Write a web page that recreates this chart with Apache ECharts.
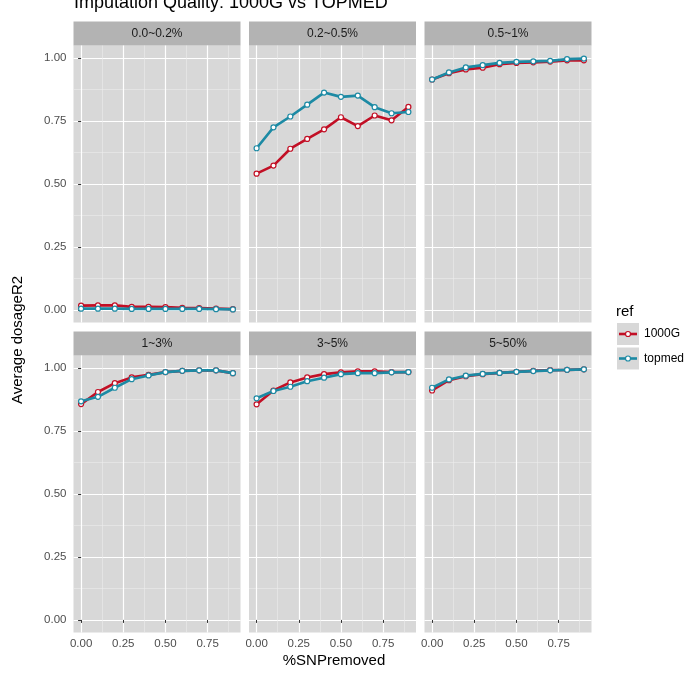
<!DOCTYPE html>
<html>
<head>
<meta charset="utf-8">
<script src="https://cdn.jsdelivr.net/npm/echarts@6/dist/echarts.min.js"></script>
<style>
  html, body { margin: 0; padding: 0; background: #fff; }
  #chart { width: 693px; height: 680px; }
</style>
</head>
<body>
<div id="chart"></div>
<script>
// x values: share of SNPs removed
const snpRemoved = [0, 0.1, 0.2, 0.3, 0.4, 0.5, 0.6, 0.7, 0.8, 0.9]
const facetNames = ['0.0~0.2%', '0.2~0.5%', '0.5~1%', '1~3%', '3~5%', '5~50%']
const refNames = ['1000G', 'topmed']
const xTicks = [0, 0.25, 0.5, 0.75]
const xMinorTicks = [0.125, 0.375, 0.625, 0.875]
const yTicks = [0, 0.25, 0.5, 0.75, 1]
const yMinorTicks = [0.125, 0.375, 0.625, 0.875]

// average dosageR2 per facet
const g1000_00_02 = [0.017, 0.018, 0.018, 0.012, 0.012, 0.011, 0.008, 0.007, 0.005, 0.003]
const topmed_00_02 = [0.005, 0.005, 0.005, 0.004, 0.004, 0.004, 0.004, 0.004, 0.003, 0.002]
const g1000_02_05 = [0.541, 0.573, 0.640, 0.679, 0.717, 0.765, 0.730, 0.772, 0.753, 0.806]
const topmed_02_05 = [0.642, 0.725, 0.768, 0.815, 0.863, 0.846, 0.851, 0.805, 0.781, 0.786]
const g1000_05_1 = [0.915, 0.940, 0.955, 0.962, 0.976, 0.981, 0.983, 0.986, 0.991, 0.991]
const topmed_05_1 = [0.915, 0.943, 0.963, 0.972, 0.981, 0.985, 0.987, 0.989, 0.996, 0.998]
const g1000_1_3 = [0.857, 0.905, 0.940, 0.963, 0.973, 0.984, 0.989, 0.991, 0.991, 0.980]
const topmed_1_3 = [0.868, 0.886, 0.922, 0.956, 0.971, 0.984, 0.989, 0.991, 0.991, 0.980]
const g1000_3_5 = [0.856, 0.911, 0.943, 0.963, 0.976, 0.983, 0.987, 0.987, 0.984, 0.984]
const topmed_3_5 = [0.880, 0.909, 0.926, 0.948, 0.962, 0.976, 0.980, 0.980, 0.983, 0.984]
const g1000_5_50 = [0.911, 0.952, 0.968, 0.976, 0.981, 0.985, 0.989, 0.992, 0.993, 0.995]
const topmed_5_50 = [0.922, 0.955, 0.970, 0.977, 0.981, 0.985, 0.988, 0.991, 0.993, 0.995]

const facetData = [
  [g1000_00_02, topmed_00_02],
  [g1000_02_05, topmed_02_05],
  [g1000_05_1, topmed_05_1],
  [g1000_1_3, topmed_1_3],
  [g1000_3_5, topmed_3_5],
  [g1000_5_50, topmed_5_50]
]

const refColors = ['#c20f25', '#1c8aa4']
const font = 'Liberation Sans, Helvetica, Arial, sans-serif'

// panel layout (ggplot facet_wrap, 2 rows x 3 cols)
const panelLeft = [73.5, 249, 424.5]
const panelTop = [45.5, 355.5]
const panelW = 167
const panelH = 277
const stripH = 24

const grids = []
const xAxes = []
const yAxes = []
const series = []
const graphics = []

facetNames.forEach((name, i) => {
  const col = i % 3
  const row = Math.floor(i / 3)
  const left = panelLeft[col]
  const top = panelTop[row]
  grids.push({
    left: left, top: top, width: panelW, height: panelH,
    show: true, backgroundColor: '#d8d8d8', borderWidth: 0,
    outerBoundsMode: 'none'
  })

  const showX = row === 1
  const showY = col === 0
  // minor grid lines
  xAxes.push({
    type: 'value', gridIndex: i, position: 'bottom', min: -0.045, max: 0.945,
    axisLine: { show: false }, axisLabel: { show: false },
    axisTick: { show: false, customValues: xMinorTicks },
    splitLine: { show: true, lineStyle: { color: '#ececec', width: 0.6 } }
  })
  yAxes.push({
    type: 'value', gridIndex: i, position: 'left', min: -0.05, max: 1.05,
    axisLine: { show: false }, axisLabel: { show: false },
    axisTick: { show: false, customValues: yMinorTicks },
    splitLine: { show: true, lineStyle: { color: '#ececec', width: 0.6 } }
  })
  // major grid lines + labels
  xAxes.push({
    type: 'value', gridIndex: i, position: 'bottom', min: -0.045, max: 0.945,
    axisLine: { show: false },
    axisTick: { show: showX, customValues: xTicks, length: 3, lineStyle: { color: '#333', width: 1 } },
    axisLabel: {
      show: showX, customValues: xTicks, margin: 5, color: '#4d4d4d',
      fontSize: 11.5, fontFamily: font, formatter: v => v.toFixed(2)
    },
    splitLine: { show: true, lineStyle: { color: '#ffffff', width: 1.2 } }
  })
  yAxes.push({
    type: 'value', gridIndex: i, position: 'left', min: -0.05, max: 1.05,
    axisLine: { show: false },
    axisTick: { show: showY, customValues: yTicks, length: 3, lineStyle: { color: '#333', width: 1 } },
    axisLabel: {
      show: showY, customValues: yTicks, margin: 7, color: '#4d4d4d',
      fontSize: 11.5, fontFamily: font, formatter: v => v.toFixed(2)
    },
    splitLine: { show: true, lineStyle: { color: '#ffffff', width: 1.2 } }
  })

  facetData[i].forEach((vals, r) => {
    series.push({
      name: refNames[r],
      type: 'line',
      xAxisIndex: 2 * i + 1,
      yAxisIndex: 2 * i + 1,
      data: snpRemoved.map((x, k) => [x, vals[k]]),
      symbol: 'circle',
      symbolSize: 5,
      showSymbol: true,
      lineStyle: { color: refColors[r], width: 2.6 },
      itemStyle: { color: '#ffffff', borderColor: refColors[r], borderWidth: 1.2 },
      emphasis: { disabled: true },
      animation: false,
      z: 2 + r
    })
  })

  // facet strip
  graphics.push({
    type: 'rect', shape: { x: left, y: top - stripH, width: panelW, height: stripH },
    style: { fill: '#b3b3b3' }, silent: true
  })
  graphics.push({
    type: 'text', x: left + panelW / 2, y: top - stripH / 2,
    style: { text: name, fill: '#1a1a1a', font: '12px ' + font, align: 'center', verticalAlign: 'middle' }
  })
})

// titles
graphics.push({
  type: 'text', x: 74, y: 12,
  style: { text: 'Imputation Quality: 1000G vs TOPMED', fill: '#000', font: '18px ' + font, align: 'left', verticalAlign: 'bottom' }
})
graphics.push({
  type: 'text', x: 334, y: 661,
  style: { text: '%SNPremoved', fill: '#000', font: '15px ' + font, align: 'center', verticalAlign: 'middle' }
})
graphics.push({
  type: 'text', x: 18, y: 340, rotation: Math.PI / 2,
  style: { text: 'Average dosageR2', fill: '#000', font: '15px ' + font, align: 'center', verticalAlign: 'middle' }
})

// legend (ggplot style keys: grey box, line, open point)
graphics.push({
  type: 'text', x: 616, y: 312,
  style: { text: 'ref', fill: '#000', font: '15px ' + font, align: 'left', verticalAlign: 'middle' }
})
refNames.forEach((n, r) => {
  const ky = 323 + r * 24.5
  graphics.push({
    type: 'rect', shape: { x: 617, y: ky, width: 22, height: 22 },
    style: { fill: '#d8d8d8' }, silent: true
  })
  graphics.push({
    type: 'line', shape: { x1: 619, y1: ky + 11, x2: 637, y2: ky + 11 },
    style: { stroke: refColors[r], lineWidth: 2.6 }, silent: true
  })
  graphics.push({
    type: 'circle', shape: { cx: 628, cy: ky + 11, r: 2.5 },
    style: { fill: '#fff', stroke: refColors[r], lineWidth: 1.2 }, silent: true
  })
  graphics.push({
    type: 'text', x: 644, y: ky + 11,
    style: { text: n, fill: '#000', font: '12px ' + font, align: 'left', verticalAlign: 'middle' }
  })
})

const chart = echarts.init(document.getElementById('chart'), null, { renderer: 'canvas' })
chart.setOption({
  animation: false,
  backgroundColor: '#ffffff',
  textStyle: { fontFamily: font },
  grid: grids,
  xAxis: xAxes,
  yAxis: yAxes,
  series: series,
  graphic: { elements: graphics }
})
window.addEventListener('resize', () => chart.resize())
</script>
</body>
</html>
